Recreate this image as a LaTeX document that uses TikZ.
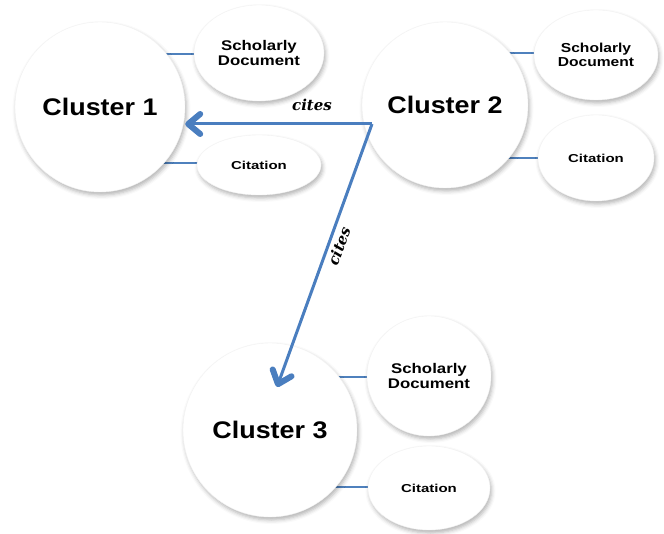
\documentclass[tikz,border=0pt]{standalone}
\usepackage{fontspec}
\setmainfont{Liberation Sans}
\newfontfamily\fclu[FakeStretch=1.12]{Liberation Sans}
\newfontfamily\fdoc[FakeStretch=1.2]{Liberation Sans}
\newfontfamily\fcit[FakeStretch=1.3]{Liberation Sans}
\newfontfamily\fcite{DejaVu Serif}
\usetikzlibrary{shapes.geometric,arrows.meta,shadows.blur}
\definecolor{arrowblue}{HTML}{4A7EBF}
\definecolor{linkblue}{HTML}{4F81BD}
\tikzset{
  soft/.style={fill=white, draw=black!5, line width=0.4pt,
    blur shadow={shadow xshift=1.5pt, shadow yshift=-3pt, shadow blur radius=4pt, shadow opacity=30}},
  cluster/.style={soft, circle, inner sep=0pt, font=\fclu\bfseries\fontsize{24}{28}\selectfont},
  docnode/.style={soft, ellipse, inner sep=0pt, align=center, font=\fdoc\bfseries\fontsize{14}{15.5}\selectfont},
  citnode/.style={soft, ellipse, inner sep=0pt, font=\fcit\bfseries\fontsize{11.5}{13}\selectfont},
  link/.style={draw=linkblue, line width=1.5pt},
  citearrow/.style={draw=arrowblue, line width=3pt, line join=round,
    -{Straight Barb[length=12pt, width=20pt, line width=6pt 0, line cap=round, line join=round]}},
  citelabel/.style={font=\fcite\bfseries\itshape\fontsize{15}{18}\selectfont, inner sep=0pt}
}
\begin{document}
\begin{tikzpicture}[x=1pt, y=-1pt]
\useasboundingbox (0,0) rectangle (664,534);
% positions
\coordinate (pc1) at (100,107);
\coordinate (pc2) at (445,105);
\coordinate (pc3) at (270,430);
\coordinate (pd1) at (259,53);
\coordinate (pt1) at (259,165);
\coordinate (pd2) at (596,55);
\coordinate (pt2) at (596,158);
\coordinate (pd3) at (429,376);
\coordinate (pt3) at (429,488);
% links behind the shapes
\draw[link] (pc1 |- 0,54) -- (pd1 |- 0,54);
\draw[link] (pc1 |- 0,163) -- (pt1 |- 0,163);
\draw[link] (pc2 |- 0,53) -- (pd2 |- 0,53);
\draw[link] (pc2 |- 0,158) -- (pt2 |- 0,158);
\draw[link] (pc3 |- 0,377) -- (pd3 |- 0,377);
\draw[link] (pc3 |- 0,487) -- (pt3 |- 0,487);
% shapes
\node[cluster, minimum size=170pt] (c1) at (pc1) {Cluster 1};
\node[cluster, minimum size=166pt] (c2) at (pc2) {Cluster 2};
\node[cluster, minimum size=174pt] (c3) at (pc3) {Cluster 3};
\node[docnode, minimum width=130pt, minimum height=96pt] (d1) at (pd1) {Scholarly\\Document};
\node[citnode, minimum width=124pt, minimum height=60pt] (t1) at (pt1) {Citation};
\node[docnode, minimum width=124pt, minimum height=90pt, font=\fdoc\bfseries\fontsize{13}{14.5}\selectfont] (d2) at (pd2) {Scholarly\\Document};
\node[citnode, minimum width=116pt, minimum height=86pt] (t2) at (pt2) {Citation};
\node[docnode, minimum width=124pt, minimum height=120pt] (d3) at (pd3) {Scholarly\\Document};
\node[citnode, minimum width=122pt, minimum height=84pt] (t3) at (pt3) {Citation};
% citation arrows
\coordinate (hub) at (372,124);
\coordinate (tip3) at (277,387);
\draw[citearrow] (hub) -- (c1.east |- hub);
\draw[citearrow] (hub) -- (tip3);
\node[citelabel, anchor=base] (l1) at (312,111) {cites};
\node[citelabel, rotate=70] (l2) at (339,246) {cites};
\end{tikzpicture}
\end{document}
